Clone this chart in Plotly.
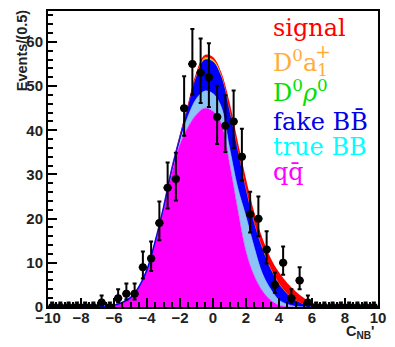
import numpy as np
import plotly.graph_objects as go

# ---- binned data: C_NB' in bins of 0.5 ----
bin_centers = [-9.75, -9.25, -8.75, -8.25, -7.75, -7.25, -6.75, -6.25, -5.75, -5.25,
               -4.75, -4.25, -3.75, -3.25, -2.75, -2.25, -1.75, -1.25, -0.75, -0.25,
               0.25, 0.75, 1.25, 1.75, 2.25, 2.75, 3.25, 3.75, 4.25, 4.75,
               5.25, 5.75, 6.25, 6.75, 7.25, 7.75, 8.25, 8.75, 9.25, 9.75]
events = [0, 0, 0, 0, 0, 0, 1, 0, 2, 3,
          3, 9, 11, 19, 27, 29, 45, 55, 53, 52,
          43, 41, 42, 34, 21, 20, 13, 5, 10, 2,
          6, 1, 0, 0, 0, 0, 0, 0, 0, 0]

# ---- fit components (events / 0.5), stacked bottom to top ----
curve_x = [-7, -6.5, -6, -5.5, -5, -4.5, -4, -3.5, -3, -2.5, -2, -1.5, -1, -0.5,
           0, 0.5, 1, 1.5, 2, 2.5, 3, 3.5, 4, 4.5, 5, 5.5, 6, 6.5, 7]
qqbar = [0.02, 0.12, 0.4, 1.0, 2.1, 4.5, 8.3, 14.6, 22.0, 30.3, 36.8, 40.8, 43.6, 45.0,
         44.3, 41.5, 32.5, 22.0, 12.5, 7.0, 3.6, 1.5, 0.4, 0.05, 0, 0, 0, 0, 0]
true_bb = [0, 0, 0, 0, 0, 0, 0.05, 0.1, 0.2, 0.4, 0.9, 2.5, 3.6, 3.9,
           4.0, 3.8, 3.6, 5.0, 8.0, 6.5, 3.9, 2.5, 1.2, 0.55, 0.15, 0.03, 0, 0, 0]
fake_bb = [0, 0, 0, 0, 0, 0, 0.1, 0.2, 0.3, 0.5, 0.8, 2.0, 4.8, 6.9,
           7.0, 6.5, 7.8, 8.0, 5.5, 5.0, 5.3, 4.3, 3.4, 2.2, 1.25, 0.47, 0.1, 0, 0]
d0rho0 = [0, 0, 0, 0, 0, 0.01, 0.02, 0.03, 0.05, 0.1, 0.15, 0.22, 0.3, 0.35,
          0.4, 0.42, 0.45, 0.43, 0.4, 0.35, 0.3, 0.25, 0.2, 0.15, 0.1, 0.06, 0.03, 0.01, 0]
d0a1 = [0, 0, 0, 0, 0, 0.01, 0.02, 0.03, 0.04, 0.08, 0.12, 0.18, 0.25, 0.3,
        0.3, 0.33, 0.35, 0.35, 0.35, 0.3, 0.25, 0.2, 0.15, 0.1, 0.08, 0.04, 0.02, 0.01, 0]
signal = [0, 0, 0, 0, 0, 0, 0, 0.05, 0.1, 0.2, 0.3, 0.5, 0.7, 0.6,
          0.6, 0.6, 1.7, 1.7, 2.3, 2.3, 2.2, 2.3, 2.5, 2.4, 2.0, 1.5, 0.8, 0.35, 0.1]

components = [
    ("qqbar", qqbar, "#ff00ff", "#ff00ff", 0.5),
    ("true BB", true_bb, "#8cc4f6", "#8cc4f6", 0.5),
    ("fake BB", fake_bb, "#0000ff", "#0000ff", 1.6),
    ("D0rho0", d0rho0, "#00ff00", "rgba(0,0,0,0)", 0),
    ("D0a1", d0a1, "#ffa500", "rgba(0,0,0,0)", 0),
    ("signal", signal, "#ff0000", "rgba(0,0,0,0)", 0),
]

fig = go.Figure()
for name, vals, fillc, linec, lw in components:
    fig.add_trace(go.Scatter(
        x=curve_x, y=vals, name=name, mode="lines", stackgroup="fit",
        fillcolor=fillc, line=dict(color=linec, width=lw, shape="spline", smoothing=1.0),
        hoverinfo="skip",
    ))

# ---- data points with Poisson-like asymmetric errors ----
ev = np.array(events, dtype=float)
err_up = 0.5 + np.sqrt(ev + 0.25)
err_dn = np.where(ev > 0, -0.5 + np.sqrt(ev + 0.25), 0.0)
fig.add_trace(go.Scatter(
    x=bin_centers, y=events, mode="markers",
    marker=dict(color="black", size=8, symbol="circle"),
    error_y=dict(type="data", symmetric=False, array=err_up, arrayminus=err_dn,
                 color="black", thickness=2, width=2),
    error_x=dict(type="constant", value=0.25, color="black", thickness=2, width=0),
    hoverinfo="skip",
))

axis_font = dict(family="Liberation Sans, Arial, sans-serif", size=15, color="#222", weight="bold")
fig.update_xaxes(
    range=[-10, 10], tickmode="array", tickvals=list(range(-10, 11, 2)),
    ticks="inside", ticklen=9, tickwidth=1.5, tickcolor="black",
    minor=dict(dtick=0.5, ticks="inside", ticklen=5, tickwidth=1.5, tickcolor="black"),
    showline=True, linecolor="black", linewidth=2, mirror=True,
    showgrid=False, zeroline=False, tickfont=axis_font, ticklabelstandoff=-4,
)
fig.update_yaxes(
    range=[0, 67], tickmode="array", tickvals=list(range(0, 61, 10)),
    ticks="inside", ticklen=9, tickwidth=1.5, tickcolor="black",
    minor=dict(dtick=2, ticks="inside", ticklen=5, tickwidth=1.5, tickcolor="black"),
    showline=True, linecolor="black", linewidth=2, mirror=True,
    showgrid=False, zeroline=False, tickfont=axis_font,
)

title_font = dict(family="Liberation Sans, Arial, sans-serif", size=14.5, color="#222", weight="bold")
annotations = [
    dict(text="Events/(0.5)", xref="paper", yref="paper", x=-0.08, y=0.866,
         xanchor="center", yanchor="middle", textangle=-90, showarrow=False, font=title_font),
    dict(text="C<sub>NB</sub>'", xref="paper", yref="paper", x=0.997, y=-0.085,
         xanchor="right", yanchor="middle", showarrow=False, font=title_font),
]

legend_font = "DejaVu Serif"
legend_entries = [
    ("signal", "#ff0000", 0.942),
    ("D<sup>0</sup>a<sub>1</sub>", "#ffad3a", 0.826),
    ("D<sup>0</sup><i>ρ</i><sup>0</sup>", "#00e000", 0.73),
    ("fake BB\u0304", "#0000e8", 0.626),
    ("true BB", "#00ffff", 0.54),
    ("qq\u0304", "#ff00ff", 0.457),
]
for txt, col, ypos in legend_entries:
    annotations.append(dict(
        text=txt, xref="paper", yref="paper", x=0.676, y=ypos,
        xanchor="left", yanchor="middle", showarrow=False,
        font=dict(family=legend_font, size=24, color=col),
    ))
# charge superscript stacked above the a1 subscript
annotations.append(dict(
    text="+", xref="paper", yref="paper", x=0.832, y=0.864,
    xanchor="center", yanchor="middle", showarrow=False,
    font=dict(family=legend_font, size=19, color="#ffad3a"),
))

fig.update_layout(
    width=395, height=347, margin=dict(l=48, r=14, t=9, b=40),
    plot_bgcolor="white", paper_bgcolor="white", showlegend=False,
    annotations=annotations,
)

fig.write_html("out.html")
